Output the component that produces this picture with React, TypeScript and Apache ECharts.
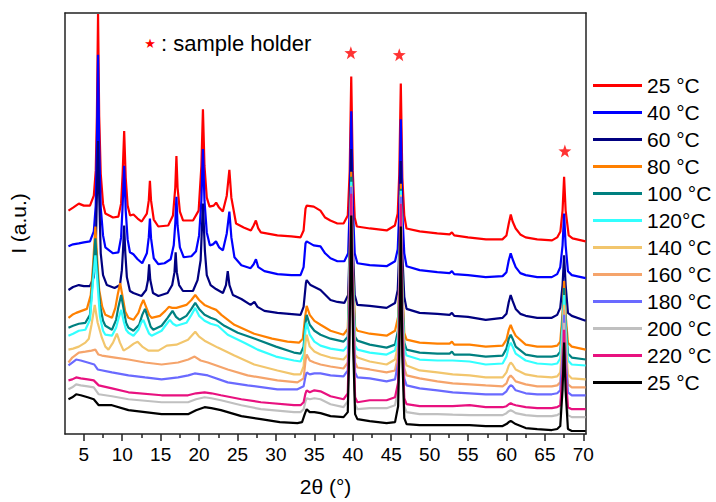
import React, { useEffect, useRef } from "react";
import * as echarts from "echarts";

type P = [number, number];

const seriesNames = ["25 °C#a", "40 °C", "60 °C", "80 °C", "100 °C", "120°C", "140 °C", "160 °C", "180 °C", "200 °C", "220 °C", "25 °C#b"];
const seriesColors = ["#FF0000", "#0000FF", "#000080", "#FF8000", "#008080", "#33FFFF", "#F2C66D", "#F5A46B", "#6A6AFF", "#C0C0C0", "#E8117F", "#000000"];
const xTickLabels = [5, 10, 15, 20, 25, 30, 35, 40, 45, 50, 55, 60, 65, 70];
const xMinorTicks = [7.5, 12.5, 17.5, 22.5, 27.5, 32.5, 37.5, 42.5, 47.5, 52.5, 57.5, 62.5, 67.5];
const holderStars: P[] = [[39.75, 384], [46.05, 382], [67.6, 285]];

const d25: P[] = [[3.0,225],[3.6,228],[4.35,232],[5.0,230],[5.8,230],[6.3,240],[6.55,265],[6.7,320],[6.85,423],[7.0,320],[7.2,262],[7.5,232],[7.8,222],[8.8,218],[9.5,219],[9.85,232],[10.05,262],[10.25,305],[10.45,258],[10.7,230],[11.02,220],[11.46,221],[12.0,217],[12.53,214],[13.2,222],[13.45,235],[13.6,255],[13.75,235],[14.1,216],[14.69,209],[15.98,210],[16.6,220],[16.9,248],[17.05,280],[17.2,248],[17.5,224],[17.92,215],[19.21,215],[19.94,225],[20.3,270],[20.5,327],[20.7,270],[21.0,238],[21.36,229],[21.9,230],[22.22,233],[22.6,228],[23.09,224],[23.6,240],[23.94,266],[24.2,238],[24.81,212],[25.8,208],[26.74,205],[27.1,210],[27.39,215],[27.7,207],[28.04,203],[30.19,200],[32.0,199],[33.2,198],[33.6,205],[33.85,227],[34.0,230],[34.92,229],[35.79,225],[36.4,218],[37.08,215],[38.0,212],[38.8,212],[39.35,220],[39.6,265],[39.8,360],[40.0,265],[40.25,218],[40.53,209],[42.25,207],[44.41,205],[45.48,210],[45.85,222],[46.05,262],[46.25,353],[46.45,258],[46.7,220],[46.99,207],[48.71,204],[51.0,202],[52.6,201],[52.9,203],[53.2,200],[55.0,198],[57.33,196],[59.47,196],[60.0,200],[60.3,212],[60.56,221],[60.8,214],[61.2,207],[61.8,201],[62.49,198],[64.0,196],[65.93,195],[66.6,198],[67.02,204],[67.3,225],[67.5,259],[67.7,225],[68.1,200],[68.6,197],[70.3,194]];

const d40: P[] = [[3.0,189],[3.6,191],[4.35,192],[5.0,193],[5.8,194],[6.3,204],[6.55,230],[6.7,290],[6.85,382],[7.0,290],[7.2,228],[7.5,200],[7.8,188],[8.8,182],[9.5,183],[9.85,198],[10.05,230],[10.25,270],[10.45,225],[10.7,196],[11.0,183],[11.45,181],[12.0,176],[12.6,172],[13.2,182],[13.45,198],[13.6,217],[13.75,197],[14.1,177],[14.7,171],[15.5,172],[16.3,176],[16.7,190],[16.9,212],[17.05,239],[17.2,210],[17.5,188],[18.0,178],[19.0,179],[19.6,184],[20.0,200],[20.3,235],[20.5,287],[20.7,235],[21.0,203],[21.4,190],[21.8,191],[22.2,194],[22.6,188],[23.1,185],[23.6,202],[23.94,224],[24.2,198],[24.6,178],[25.5,170],[26.7,167],[27.1,171],[27.4,176],[27.7,168],[28.5,164],[30.2,161],[32.0,160],[33.2,160],[33.6,168],[33.85,192],[34.0,194],[34.9,190],[35.8,189],[36.4,182],[37.1,177],[38.0,174],[38.9,174],[39.4,182],[39.6,230],[39.8,325],[40.0,230],[40.25,182],[40.6,172],[42.2,170],[44.4,169],[45.5,174],[45.85,186],[46.05,225],[46.25,317],[46.45,222],[46.7,182],[47.0,169],[48.7,165],[51.0,163],[52.6,162],[52.9,164],[53.2,161],[55.0,160],[57.3,158],[59.5,159],[60.0,163],[60.3,175],[60.55,182],[60.8,176],[61.2,168],[61.8,162],[62.5,160],[64.0,158],[65.9,158],[66.6,161],[67.0,168],[67.3,190],[67.5,222],[67.7,190],[68.0,164],[68.5,160],[70.3,157]];

const d60: P[] = [[3.0,145],[3.6,148],[4.35,150],[5.0,149],[5.8,149],[6.3,158],[6.55,185],[6.7,240],[6.85,295],[7.0,240],[7.2,182],[7.5,160],[8.0,150],[9.0,147],[9.7,150],[9.95,165],[10.1,185],[10.25,210],[10.4,182],[10.6,158],[11.0,144],[11.45,142],[12.5,139],[13.1,145],[13.35,155],[13.5,171],[13.65,155],[14.0,142],[14.7,139],[15.9,142],[16.5,150],[16.8,163],[16.95,183],[17.1,163],[17.4,150],[17.9,144],[19.2,144],[19.8,155],[20.2,175],[20.5,232],[20.75,185],[21.0,160],[21.5,150],[22.2,146],[23.1,142],[23.5,150],[23.73,164],[23.95,150],[24.4,140],[25.5,136],[26.7,130],[27.2,133],[27.6,128],[28.5,124],[30.2,122],[33.2,120],[33.6,128],[33.9,152],[34.0,155],[34.5,150],[35.8,145],[37.1,135],[38.0,133],[38.9,132],[39.4,140],[39.6,190],[39.8,287],[40.0,190],[40.25,140],[40.6,130],[42.2,129],[44.4,127],[45.5,132],[45.85,145],[46.05,185],[46.25,275],[46.45,180],[46.7,138],[47.0,126],[48.7,122],[51.0,121],[52.6,120],[52.9,122],[53.2,119],[55.0,118],[57.3,115],[59.5,117],[60.0,121],[60.3,133],[60.55,140],[60.8,134],[61.2,126],[61.8,121],[62.5,119],[64.0,117],[65.9,117],[66.6,120],[67.0,127],[67.3,150],[67.5,180],[67.7,150],[68.0,122],[68.5,119],[70.3,114]];

const d80: P[] = [[3.0,117],[3.5,120],[4.0,122],[4.7,124],[5.4,126],[5.9,140],[6.2,170],[6.5,209],[6.75,175],[7.0,145],[7.4,128],[7.8,120],[8.66,117],[9.1,127],[9.4,140],[9.73,152],[10.05,138],[10.4,123],[10.8,117],[11.46,115],[12.1,122],[12.45,130],[12.75,135],[13.1,128],[13.5,120],[13.82,117],[14.9,119],[15.6,124],[16.06,128],[16.5,127],[17.05,127],[18.35,130],[19.0,135],[19.5,140],[20.0,135],[20.7,130],[21.6,127],[22.22,125],[22.9,120],[24.59,110],[27.17,101],[29.5,96],[31.5,93],[33.0,92],[33.5,96],[33.8,118],[34.0,129],[34.4,120],[35.0,114],[35.8,110],[37.1,104],[38.8,100],[39.35,106],[39.55,160],[39.8,264],[40.05,160],[40.3,108],[40.6,104],[42.2,101],[44.4,99],[45.5,104],[45.9,118],[46.05,155],[46.25,252],[46.45,150],[46.7,102],[47.0,95],[48.7,92],[51.0,91],[52.6,91],[52.9,93],[53.2,90],[55.2,90],[57.3,88],[59.5,89],[60.0,95],[60.3,105],[60.55,110],[60.8,105],[61.2,99],[62.5,90],[64.0,88],[65.9,88],[66.6,89],[67.0,93],[67.3,122],[67.5,154],[67.7,120],[68.0,92],[68.5,88],[70.3,85]];

const d100: P[] = [[3.0,107],[3.6,109],[4.35,111],[5.2,112],[5.8,120],[6.1,150],[6.5,197],[6.8,160],[7.1,130],[7.5,114],[7.8,109],[8.66,105],[9.2,115],[9.5,128],[9.86,140],[10.2,125],[10.5,112],[10.81,107],[11.46,104],[12.2,110],[12.6,120],[12.96,126],[13.3,118],[13.7,108],[14.04,105],[15.12,109],[15.9,117],[16.54,124],[17.0,118],[17.48,115],[18.35,119],[19.0,126],[19.5,132],[20.0,126],[20.71,120],[21.5,117],[22.22,115],[23.29,109],[25.03,102],[27.61,95],[30.0,88],[32.34,82],[33.2,81],[33.6,88],[33.85,112],[34.0,120],[34.4,110],[35.0,104],[35.8,100],[37.1,96],[38.8,93],[39.35,98],[39.55,152],[39.8,259],[40.05,152],[40.3,98],[40.6,94],[42.2,90],[44.4,87],[45.5,90],[45.9,105],[46.05,145],[46.25,247],[46.45,140],[46.7,92],[47.0,85],[48.7,82],[51.0,81],[52.6,81],[52.9,83],[53.2,80],[55.2,80],[57.3,78],[59.5,79],[60.0,86],[60.3,96],[60.55,100],[60.8,96],[61.2,88],[62.5,80],[64.0,78],[65.9,78],[66.6,79],[67.0,83],[67.3,115],[67.5,147],[67.7,113],[68.0,81],[68.5,77],[70.3,75]];

const d120: P[] = [[3.0,99],[3.6,101],[4.35,104],[5.2,105],[5.8,115],[6.1,145],[6.5,180],[6.8,150],[7.1,118],[7.5,104],[7.8,100],[8.66,99],[9.2,107],[9.5,116],[9.86,125],[10.2,113],[10.5,105],[10.81,102],[11.46,99],[12.1,105],[12.45,112],[12.75,115],[13.1,108],[13.5,101],[13.82,99],[15.12,104],[15.7,110],[16.19,115],[16.6,111],[17.05,109],[18.35,112],[19.0,120],[19.5,127],[20.0,119],[20.71,114],[21.5,111],[22.44,109],[23.73,100],[25.88,92],[27.61,85],[30.0,78],[32.34,74],[33.2,73],[33.6,80],[33.85,105],[34.0,112],[34.4,100],[35.0,93],[35.8,89],[37.1,86],[38.8,84],[39.35,89],[39.55,145],[39.8,254],[40.05,145],[40.3,89],[40.6,85],[42.2,82],[44.4,80],[45.5,84],[45.9,98],[46.05,140],[46.25,245],[46.45,135],[46.7,86],[47.0,79],[48.7,75],[51.0,74],[53.0,74],[55.2,73],[57.3,70],[59.5,71],[60.0,78],[60.3,88],[60.55,92],[60.8,88],[61.2,81],[62.5,74],[64.0,71],[65.9,70],[66.6,71],[67.0,76],[67.3,108],[67.5,140],[67.7,106],[68.0,74],[68.5,70],[70.3,69]];

const d140: P[] = [[3.0,85],[3.6,86],[4.35,88],[5.2,92],[5.65,96],[6.0,110],[6.42,130],[6.8,112],[7.35,97],[7.8,88],[8.2,85],[8.8,92],[9.3,101],[9.7,92],[10.17,84],[10.81,87],[11.5,91],[12.0,93],[12.6,88],[13.4,84],[14.7,84],[15.8,89],[17.05,90],[18.56,95],[19.5,103],[20.0,98],[20.71,94],[22.44,87],[24.59,79],[27.17,70],[30.19,64],[32.34,60],[33.2,60],[33.6,68],[33.85,92],[34.0,100],[34.4,88],[35.0,83],[35.8,80],[37.1,77],[38.8,75],[39.35,80],[39.55,137],[39.8,250],[40.05,137],[40.3,80],[40.6,77],[42.2,73],[44.4,70],[45.5,75],[45.9,90],[46.05,133],[46.25,241],[46.45,128],[46.7,76],[47.0,69],[48.7,64],[51.0,62],[53.0,60],[55.2,59],[57.3,57],[59.5,57],[60.0,62],[60.3,69],[60.55,72],[60.8,70],[61.2,65],[62.5,60],[64.0,58],[65.9,57],[66.6,58],[67.0,62],[67.3,95],[67.5,130],[67.7,93],[68.0,60],[68.5,56],[70.3,55]];

const d160: P[] = [[3.0,72],[3.5,77],[4.35,82],[5.2,83],[6.0,84],[6.5,85],[6.9,80],[7.35,79],[9.07,77],[10.81,75],[12.96,72],[15.12,70],[17.27,72],[18.6,75],[19.42,78],[20.2,74],[21.14,72],[23.73,65],[26.31,59],[30.19,54],[32.8,52],[33.6,56],[33.85,74],[34.0,80],[34.4,74],[35.0,72],[35.8,70],[37.1,68],[38.8,66],[39.35,72],[39.55,130],[39.8,248],[40.05,130],[40.3,72],[40.6,67],[42.2,65],[44.4,62],[45.5,64],[45.9,80],[46.05,125],[46.25,239],[46.45,120],[46.7,66],[47.0,59],[48.7,56],[51.0,53],[53.0,51],[55.2,50],[57.3,49],[59.5,48],[60.0,51],[60.3,57],[60.55,59],[60.8,57],[61.2,53],[62.5,50],[64.0,48],[65.9,48],[66.6,49],[67.0,52],[67.3,88],[67.5,125],[67.7,86],[68.0,50],[68.5,47],[70.3,47]];

const d180: P[] = [[3.0,69],[3.5,72],[4.0,75],[4.6,74],[5.5,72],[6.36,70],[6.8,65],[8.66,62],[10.81,59],[12.96,57],[15.12,55],[17.27,57],[18.6,59],[19.42,61],[20.3,60],[21.14,59],[23.73,52],[26.31,49],[30.19,45],[32.8,45],[33.6,48],[33.85,58],[34.0,62],[34.4,60],[35.0,61],[35.8,61],[37.1,59],[38.8,58],[39.35,64],[39.55,125],[39.8,249],[40.05,125],[40.3,62],[40.6,57],[42.2,56],[44.4,53],[45.5,55],[45.9,72],[46.05,120],[46.25,239],[46.45,115],[46.7,56],[47.0,49],[48.7,46],[51.0,44],[53.0,42],[55.2,41],[57.3,40],[59.5,40],[60.0,43],[60.3,47],[60.55,49],[60.8,48],[61.2,44],[62.5,41],[64.0,40],[65.9,40],[66.6,41],[67.0,44],[67.3,80],[67.5,120],[67.7,78],[68.0,42],[68.5,39],[70.3,39]];

const d200: P[] = [[3.0,45],[3.5,47],[4.0,50],[4.6,49],[5.5,48],[6.29,47],[6.94,40],[8.66,38],[10.81,35],[15.12,32],[18.56,32],[19.6,35],[20.71,37],[21.6,36],[22.84,34],[25.5,29],[28.04,25],[32.34,22],[33.2,22],[33.6,25],[33.85,33],[34.0,36],[34.4,35],[35.0,36],[35.8,35],[37.1,30],[38.8,27],[39.35,33],[39.55,100],[39.8,238],[40.05,100],[40.3,30],[40.6,25],[42.2,26],[44.4,26],[45.5,29],[45.9,45],[46.05,100],[46.25,232],[46.45,95],[46.7,28],[47.0,22],[48.7,20],[51.0,20],[53.0,19.5],[55.2,19],[57.3,19],[59.5,19],[60.0,21],[60.3,23],[60.55,24],[60.8,23],[61.2,21],[62.5,19],[64.0,18],[65.9,18],[66.6,19],[67.0,21],[67.3,60],[67.5,112],[67.7,58],[68.0,19],[68.5,17],[70.3,17]];

const d220: P[] = [[3.0,54],[3.5,55],[4.0,57],[4.6,56],[5.5,55],[6.29,54],[6.94,49],[8.66,46],[10.81,42],[15.12,39],[18.56,39],[19.6,41],[20.71,42],[21.6,41],[22.84,39],[25.5,35],[28.04,32],[32.34,29],[33.2,29],[33.6,32],[33.85,41],[34.0,44],[34.4,42],[35.0,44],[35.8,43],[37.1,38],[38.8,35],[39.35,41],[39.55,107],[39.8,242],[40.05,107],[40.3,37],[40.6,32],[42.2,34],[44.4,34],[45.5,37],[45.9,52],[46.05,105],[46.25,232],[46.45,100],[46.7,36],[47.0,30],[48.7,28],[51.0,28],[53.0,28],[55.2,29],[57.3,27],[59.5,27],[60.0,28],[60.3,30],[60.55,31],[60.8,30],[61.2,29],[62.5,27],[64.0,26],[65.9,26],[66.6,27],[67.0,29],[67.3,62],[67.5,105],[67.7,60],[68.0,27],[68.5,25],[70.3,25]];

const d25b: P[] = [[3.0,35],[3.5,37],[4.0,40],[4.6,39],[5.5,37],[6.29,35],[6.94,29],[8.66,29],[10.81,24],[15.12,20],[18.56,20],[19.6,24],[20.71,27],[21.6,26],[22.84,24],[25.5,18],[28.04,15],[30.5,12],[32.8,11],[33.4,12],[33.75,20],[34.0,25],[34.4,22],[35.0,22],[35.8,21],[37.1,18],[38.8,17],[39.35,22],[39.55,88],[39.8,220],[40.05,88],[40.3,20],[40.6,15],[42.2,13],[44.4,11],[45.5,12],[45.9,28],[46.05,80],[46.25,209],[46.45,78],[46.7,16],[47.0,10],[48.7,9],[51.0,9],[53.0,9],[55.2,9],[57.3,8],[59.5,8],[60.0,10],[60.3,12],[60.55,13],[60.8,12],[61.2,10],[62.5,6],[64.0,5],[65.9,4],[66.6,5],[67.0,8],[67.3,45],[67.5,92],[67.7,43],[68.0,5],[68.5,3],[70.3,3]];

const allData: P[][] = [d25, d40, d60, d80, d100, d120, d140, d160, d180, d200, d220, d25b];

const FONT = "'Liberation Sans', Arial, Helvetica, sans-serif";
const STAR = "path://M0,-10L2.35,-3.24L9.51,-3.09L3.8,1.24L5.88,8.09L0,4L-5.88,8.09L-3.8,1.24L-9.51,-3.09L-2.35,-3.24Z";
const X_MIN = 2.55;
const X_MAX = 70.35;

export default function App() {
  const ref = useRef<HTMLDivElement>(null);
  useEffect(() => {
    if (!ref.current) return;
    const chart = echarts.init(ref.current, undefined, { renderer: "svg" });
    const frame = { color: "#222", width: 1.5 };
    const lineSeries = allData.map((d, i) => ({
      type: "line",
      name: seriesNames[i],
      data: d,
      showSymbol: false,
      symbol: "none",
      color: seriesColors[i],
      lineStyle: { width: 2.2, color: seriesColors[i] },
      xAxisIndex: 0,
      yAxisIndex: 0,
      z: 2,
    }));
    chart.setOption({
      animation: false,
      backgroundColor: "#fff",
      grid: { left: 63, right: 130, top: 13, bottom: 65, containLabel: false },
      xAxis: [
        {
          type: "value",
          min: X_MIN,
          max: X_MAX,
          position: "bottom",
          name: "2θ (°)",
          nameLocation: "middle",
          nameGap: 42,
          nameTextStyle: { fontSize: 21, color: "#000", fontFamily: FONT },
          axisLine: { show: true, lineStyle: frame },
          axisTick: { show: true, inside: false, length: 7, customValues: xTickLabels, lineStyle: { color: "#222", width: 1.5 } },
          axisLabel: { show: true, customValues: xTickLabels, margin: 11, fontSize: 19, color: "#000", fontFamily: FONT },
          splitLine: { show: false },
        },
        {
          type: "value",
          min: X_MIN,
          max: X_MAX,
          position: "bottom",
          axisLine: { show: false },
          axisTick: { show: true, inside: false, length: 4, customValues: xMinorTicks, lineStyle: { color: "#222", width: 1.5 } },
          axisLabel: { show: false },
          splitLine: { show: false },
        },
        {
          type: "value",
          min: X_MIN,
          max: X_MAX,
          position: "top",
          axisLine: { show: true, lineStyle: frame },
          axisTick: { show: false },
          axisLabel: { show: false },
          splitLine: { show: false },
        },
      ],
      yAxis: [
        {
          type: "value",
          min: 0,
          max: 424,
          position: "left",
          name: "I (a.u.)",
          nameLocation: "middle",
          nameGap: 36,
          nameTextStyle: { fontSize: 21, color: "#000", fontFamily: FONT },
          axisLine: { show: true, lineStyle: frame },
          axisTick: { show: false },
          axisLabel: { show: false },
          splitLine: { show: false },
        },
        {
          type: "value",
          min: 0,
          max: 424,
          position: "right",
          axisLine: { show: true, lineStyle: frame },
          axisTick: { show: false },
          axisLabel: { show: false },
          splitLine: { show: false },
        },
      ],
      legend: {
        orient: "vertical",
        left: 593,
        top: 75,
        padding: 0,
        itemWidth: 49,
        itemHeight: 3,
        itemGap: 6,
        selectedMode: false,
        icon: "rect",
        data: seriesNames,
        formatter: (n: string) => n.split("#")[0],
        textStyle: { fontSize: 21, lineHeight: 21, color: "#000", fontFamily: FONT },
      },
      series: [
        ...lineSeries,
        {
          type: "scatter",
          name: "holder",
          data: holderStars,
          symbol: STAR,
          symbolSize: 13,
          itemStyle: { color: "#FF0000" },
          z: 5,
        },
      ],
      graphic: [
        {
          type: "text",
          x: 150,
          y: 43,
          style: { text: "★", fill: "#FF0000", fontSize: 13, fontFamily: "'DejaVu Sans'", align: "center", verticalAlign: "middle" },
        },
        {
          type: "text",
          x: 161,
          y: 43,
          style: { text: ": sample holder", fill: "#000", fontSize: 22, fontFamily: FONT, align: "left", verticalAlign: "middle" },
        },
      ],
    });
    return () => chart.dispose();
  }, []);
  return <div ref={ref} style={{ position: "fixed", left: 0, top: 0, width: 716, height: 502 }} />;
}
